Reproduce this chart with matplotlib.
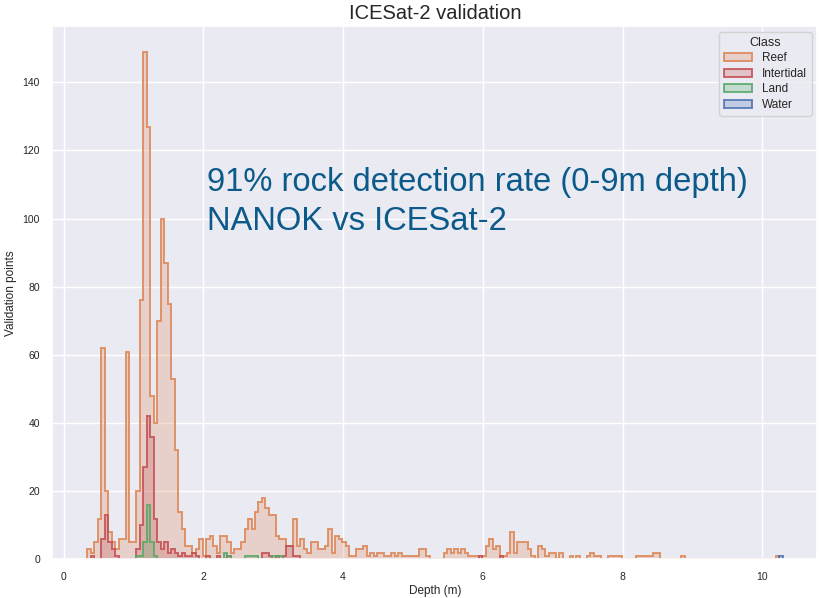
import numpy as np
import matplotlib
matplotlib.use("Agg")
import matplotlib.pyplot as plt
from matplotlib.patches import Patch
from matplotlib.colors import to_rgba
import seaborn as sns

# ---- data (bin counts) ----
bin_start = 0.34
bin_width = 0.05
n_bins = 199

classes = ["Reef", "Intertidal", "Land", "Water"]
palette = {"Reef": "#DD8452", "Intertidal": "#C44E52", "Land": "#55A868", "Water": "#4C72B0"}

reef_counts = [
    3, 2, 5, 12, 62, 20, 8, 5, 3, 6,
    6, 61, 5, 5, 20, 76, 149, 127, 48, 40,
    70, 100, 87, 75, 53, 32, 14, 9, 4, 4,
    2, 3, 6, 1, 6, 7, 4, 2, 7, 7,
    5, 2, 3, 3, 5, 9, 12, 9, 14, 17,
    18, 15, 13, 13, 7, 6, 6, 4, 4, 12,
    4, 6, 3, 2, 5, 5, 3, 3, 4, 9,
    2, 7, 6, 5, 4, 1, 1, 3, 3, 4,
    1, 2, 1, 2, 2, 1, 1, 2, 1, 2,
    1, 1, 1, 1, 1, 3, 3, 1, 0, 0,
    0, 0, 2, 3, 2, 3, 2, 3, 2, 1,
    1, 1, 0, 1, 4, 6, 3, 4, 1, 1,
    2, 8, 2, 5, 5, 5, 3, 1, 0, 4,
    3, 1, 2, 2, 0, 2, 0, 0, 1, 0,
    1, 0, 0, 1, 2, 1, 1, 0, 0, 1,
    1, 1, 1, 0, 0, 0, 0, 1, 1, 1,
    1, 1, 2, 2, 0, 0, 0, 0, 0, 0,
    1, 0, 0, 0, 0, 0, 0, 0, 0, 0,
    0, 0, 0, 0, 0, 0, 0, 0, 0, 0,
    0, 0, 0, 0, 0, 0, 0, 1, 0,
]
# sparse counts: {bin index: count}
intertidal_counts = {1: 1, 4: 6, 5: 13, 6: 5, 7: 3, 8: 1, 14: 3, 15: 10, 16: 27, 17: 42,
                     18: 36, 19: 12, 20: 5, 21: 3, 22: 5, 23: 2, 24: 3, 25: 2, 26: 1,
                     27: 2, 28: 1, 29: 1, 30: 2, 31: 1, 34: 1, 37: 1, 40: 1, 50: 2,
                     51: 2, 52: 1, 54: 1, 56: 1, 57: 4, 58: 4, 59: 1, 60: 1, 112: 1, 118: 1}
land_counts = {14: 1, 15: 1, 16: 5, 17: 16, 18: 5, 19: 1, 39: 2, 40: 1, 45: 1, 46: 1,
               47: 1, 48: 1, 53: 1, 54: 1, 55: 1}
water_counts = {198: 1}

title = "ICESat-2 validation"
xlabel = "Depth (m)"
ylabel = "Validation points"
note_lines = ["91% rock detection rate (0-9m depth)", "NANOK vs ICESat-2"]

# ---- build ----
edges = bin_start + bin_width * np.arange(n_bins + 1)


def dense(d):
    a = np.zeros(n_bins)
    for k, v in d.items():
        a[k] = v
    return a


counts = {
    "Reef": np.array(reef_counts, dtype=float),
    "Intertidal": dense(intertidal_counts),
    "Land": dense(land_counts),
    "Water": dense(water_counts),
}

sns.set_theme(style="darkgrid")
plt.rcParams["font.family"] = ["Liberation Sans", "DejaVu Sans"]

fig = plt.figure(figsize=(8.19, 5.98), dpi=100)
ax = fig.add_axes([0.0641, 0.0644, 0.934, 0.892])

handles = []
for c in classes:
    col = palette[c]
    nz = np.nonzero(counts[c])[0]
    lo, hi = nz.min(), nz.max() + 1
    ax.stairs(counts[c][lo:hi], edges[lo:hi + 1], fill=True,
              facecolor=to_rgba(col, 0.25), edgecolor=to_rgba(col, 0.85),
              linewidth=1.4, baseline=0)
    handles.append(Patch(facecolor=to_rgba(col, 0.25), edgecolor=to_rgba(col, 0.85),
                         linewidth=1.4, label=c))

ax.set_xlim(-0.1575, 10.7875)
ax.set_ylim(0, 156.5)
ax.set_title(title, fontsize=14.5, pad=5)
ax.set_xlabel(xlabel, fontsize=8.5, labelpad=2)
ax.set_ylabel(ylabel, fontsize=8.5, labelpad=4)
ax.set_yticks([0, 20, 40, 60, 80, 100, 120, 140])
ax.set_xticks([0, 2, 4, 6, 8, 10])
ax.tick_params(labelsize=7.5, pad=3)

leg = ax.legend(handles=handles, title="Class", loc="upper right",
                fontsize=8.5, title_fontsize=9, handlelength=2.4,
                labelspacing=0.3)

for line, ybase in zip(note_lines, [191, 230]):
    fig.text(207 / 819, 1 - ybase / 598, line, fontsize=23.6, color="#0B5A8A",
             va="baseline", ha="left")

fig.savefig("out.png", dpi=100)
